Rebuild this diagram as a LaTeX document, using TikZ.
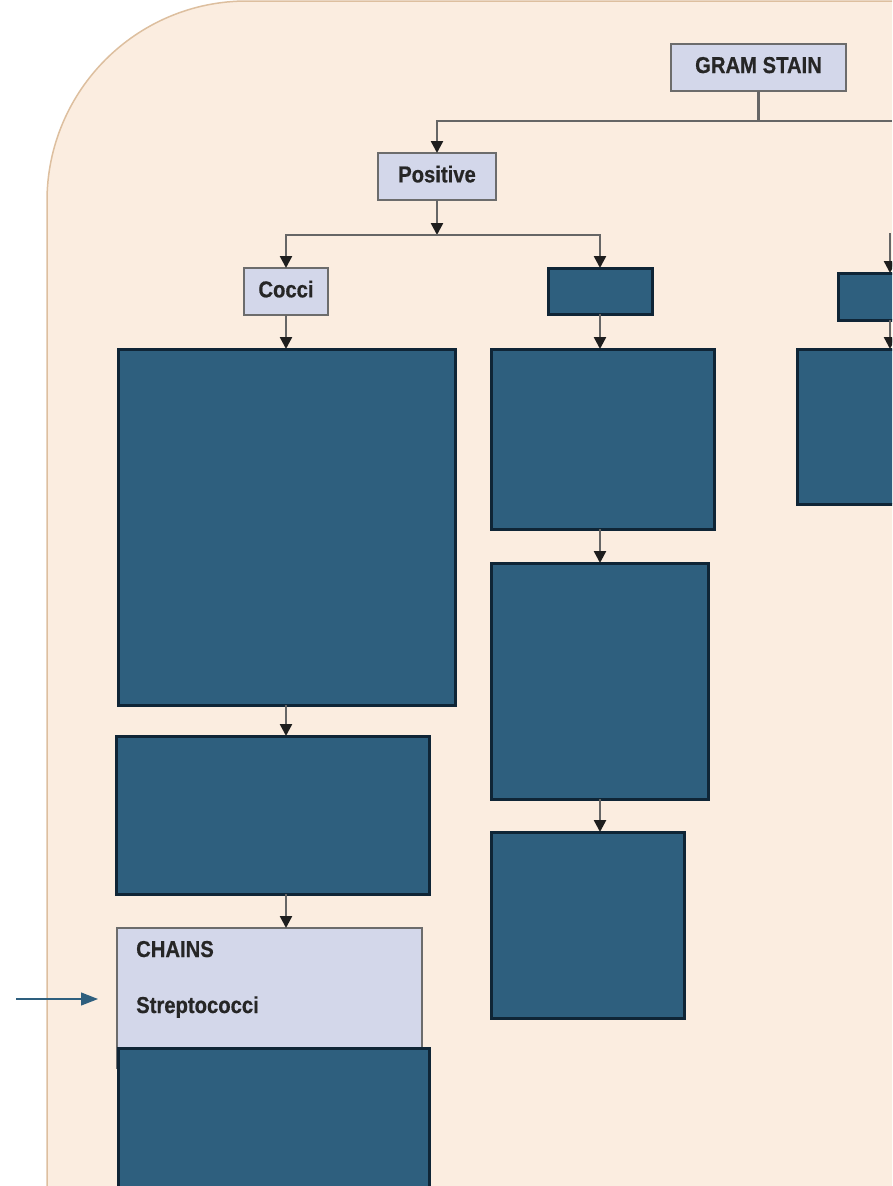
\documentclass[tikz,border=0pt]{standalone}
\usepackage{fontspec}
\setmainfont{Liberation Sans}[FakeStretch=0.88]
\newfontfamily\lblfont{Liberation Sans Bold}[FakeStretch=0.88, FakeBold=0.6]
\usetikzlibrary{arrows.meta}
\definecolor{bgc}{HTML}{FBEDE0}
\definecolor{bgline}{HTML}{DDBF9F}
\definecolor{lboxc}{HTML}{D3D7EA}
\definecolor{lboxline}{HTML}{6C6C6C}
\definecolor{dboxc}{HTML}{2E5F7E}
\definecolor{dboxline}{HTML}{0F2536}
\definecolor{connc}{HTML}{666666}
\definecolor{tipc}{HTML}{1E1E1E}
\definecolor{txtc}{HTML}{262626}
\definecolor{pointc}{HTML}{2E5F7E}
\begin{document}
\begin{tikzpicture}[x=1pt,y=-1pt,
  lbox/.style={draw=lboxline, fill=lboxc, line width=2.2pt, inner sep=0pt, outer sep=0pt,
    anchor=north west, text depth=5pt, font=\fontsize{23}{27}\lblfont, text=txtc},
  dbox/.style={draw=dboxline, fill=dboxc, line width=3pt, inner sep=0pt, outer sep=0pt, anchor=north west},
  conn/.style={draw=connc, line width=2.5pt, -{Triangle[width=12pt,length=12pt,color=tipc]}},
  plainline/.style={draw=connc, line width=2.5pt},
  lbl/.style={font=\fontsize{23}{27}\lblfont, text=txtc, inner sep=0pt, anchor=base west},
  pointer/.style={draw=pointc, line width=1.2pt, -{Triangle[width=13pt,length=17pt,color=pointc]}}]
\useasboundingbox (0,0) rectangle (892,1186);
\clip (0,0) rectangle (892,1186);
% background panel
\draw[fill=bgc, draw=bgline, line width=1.5pt, rounded corners=200pt] (47,1) rectangle (1200,1500);

% boxes
\node[lbox, minimum width=175pt, minimum height=47pt] (gs) at (671,44) {GRAM STAIN};
\node[lbox, minimum width=118pt, minimum height=47pt] (pos) at (378,153) {Positive};
\node[lbox, minimum width=84pt, minimum height=47pt] (cocci) at (244,268) {Cocci};
\node[dbox, minimum width=104pt, minimum height=46pt] (rod) at (548,268) {};
\node[dbox, minimum width=120pt, minimum height=47pt] (negsmall) at (838,273) {};
\node[dbox, minimum width=200pt, minimum height=155pt] (negbig) at (797,349) {};
\node[dbox, minimum width=337pt, minimum height=356pt] (L1) at (118,349) {};
\node[dbox, minimum width=223pt, minimum height=180pt] (M1) at (491,349) {};
\node[dbox, minimum width=217pt, minimum height=236pt] (M2) at (491,563) {};
\node[dbox, minimum width=193pt, minimum height=186pt] (M3) at (491,832) {};
\node[dbox, minimum width=313pt, minimum height=158pt] (L2) at (116,736) {};
\node[lbox, minimum width=305pt, minimum height=140pt] (chains) at (117,928) {};
\node[lbl] (tchains) at (136,957) {CHAINS};
\node[lbl] (tstrep) at (136,1013) {Streptococci};
\node[dbox, minimum width=311pt, minimum height=200pt] (L3) at (118,1048) {};

% connectors
\coordinate (b1) at (757,121);
\coordinate (b1r) at (892,121);
\coordinate (b2) at (437,235);
\coordinate (b3) at (890,233);
\draw[plainline] (gs.south) -- (gs.south |- b1);
\draw[plainline] (b1) -- (b1r);
\draw[conn] (b1) -| (pos.north);
\draw[conn] (pos.south) -- (pos.south |- b2);
\draw[conn] (b2) -| (cocci.north);
\draw[conn] (b2) -| (rod.north);
\draw[conn] (b3) -- (b3 |- negsmall.north);
\draw[conn] (b3 |- negsmall.south) -- (b3 |- negbig.north);
\draw[conn] (cocci.south) -- (cocci.south |- L1.north);
\draw[conn] (rod.south) -- (rod.south |- M1.north);
\draw[conn] (rod.south |- M1.south) -- (rod.south |- M2.north);
\draw[conn] (rod.south |- M2.south) -- (rod.south |- M3.north);
\draw[conn] (cocci.south |- L1.south) -- (cocci.south |- L2.north);
\draw[conn] (cocci.south |- L2.south) -- (cocci.south |- chains.north);

% pointer
\coordinate (ps) at (16,999);
\coordinate (pe) at (98,999);
\draw[pointer] (ps) -- (pe);
\end{tikzpicture}
\end{document}
